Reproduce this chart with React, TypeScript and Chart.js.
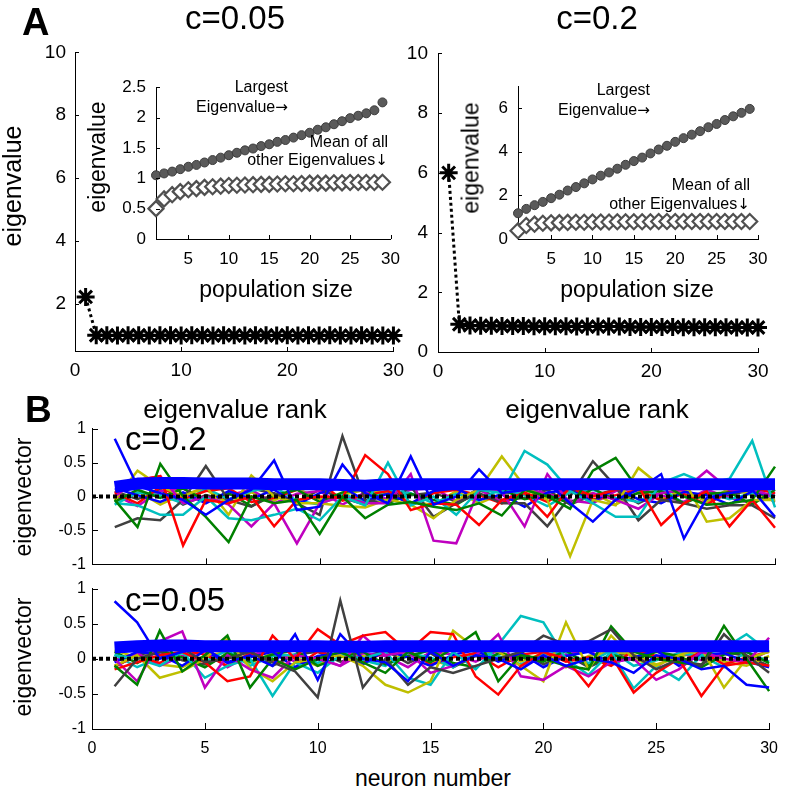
import React, { useEffect, useRef } from 'react';
import { Chart, registerables } from 'chart.js';

Chart.register(...registerables);

// ---------------- data ----------------
const rank = [1,2,3,4,5,6,7,8,9,10,11,12,13,14,15,16,17,18,19,20,21,22,23,24,25,26,27,28,29,30];
const mainEigC005 = [2.22,1.0,1.0,0.99,1.0,1.0,0.99,1.0,1.0,0.99,1.0,1.0,0.99,1.0,1.0,0.99,1.0,1.0,0.99,1.0,0.99,1.0,0.99,1.0,0.99,0.99,1.0,0.99,0.99,0.99];
const mainEigC02 = [6.0,0.93,0.89,0.88,0.88,0.87,0.87,0.87,0.86,0.86,0.86,0.86,0.85,0.85,0.85,0.85,0.85,0.84,0.84,0.84,0.84,0.84,0.83,0.83,0.83,0.83,0.83,0.82,0.82,0.82];
const mainXTicks = [0,10,20,30];
const mainYTicksC005 = [2,4,6,8,10];
const mainYTicksC02 = [0,2,4,6,8,10];

const popSize = [1,2,3,4,5,6,7,8,9,10,11,12,13,14,15,16,17,18,19,20,21,22,23,24,25,26,27,28,29];
const largestC005 = [1.05,1.08,1.11,1.15,1.19,1.22,1.26,1.30,1.34,1.38,1.42,1.46,1.49,1.53,1.56,1.60,1.63,1.67,1.71,1.75,1.80,1.84,1.89,1.94,1.99,2.03,2.07,2.12,2.25];
const meanOtherC005 = [0.5,0.66,0.73,0.78,0.81,0.83,0.85,0.86,0.87,0.88,0.885,0.89,0.895,0.9,0.9,0.905,0.91,0.91,0.915,0.92,0.92,0.92,0.925,0.925,0.93,0.93,0.93,0.93,0.935];
const largestC02 = [1.18,1.38,1.55,1.70,1.87,2.03,2.22,2.38,2.55,2.73,2.90,3.05,3.22,3.40,3.57,3.73,3.92,4.10,4.27,4.45,4.62,4.78,4.94,5.12,5.27,5.45,5.62,5.78,5.96];
const meanOtherC02 = [0.38,0.62,0.68,0.72,0.74,0.75,0.76,0.77,0.77,0.78,0.78,0.78,0.79,0.79,0.79,0.79,0.79,0.8,0.8,0.8,0.8,0.8,0.8,0.8,0.8,0.8,0.8,0.8,0.8];
const insetXTicks = [5,10,15,20,25,30];
const insetYTicksC005 = [0,0.5,1,1.5,2,2.5];
const insetYTicksC02 = [0,2,4,6];

const neurons = [1,2,3,4,5,6,7,8,9,10,11,12,13,14,15,16,17,18,19,20,21,22,23,24,25,26,27,28,29,30];
const vecXTicks = [0,5,10,15,20,25,30];
const vecYTicks = [-1,-0.5,0,0.5,1];
const zeroLineX = [0,30];
const zeroLineY = [0,0];

// c = 0.2 eigenvectors
const c02Thick = [0.14,0.19,0.2,0.2,0.19,0.19,0.19,0.18,0.18,0.18,0.17,0.16,0.18,0.18,0.18,0.18,0.18,0.18,0.18,0.18,0.18,0.18,0.18,0.18,0.18,0.18,0.18,0.18,0.18,0.18];
const c02Blue = [0.85,0.15,0.05,-0.05,-0.27,-0.05,0.1,0.53,-0.2,-0.15,0.47,0.05,-0.1,0.59,-0.12,0.0,0.4,0.05,0.1,0.2,-0.1,-0.37,-0.05,0.1,0.33,-0.62,-0.02,0.05,0.1,-0.3];
const c02Green = [-0.05,-0.45,0.48,0.0,-0.3,-0.67,0.0,-0.1,-0.05,-0.55,0.0,-0.32,-0.12,-0.08,-0.15,-0.2,-0.1,-0.28,0.1,0.0,-0.18,0.38,0.57,0.1,0.2,0.0,-0.12,-0.1,-0.05,0.44];
const c02Red = [0.05,0.24,0.3,-0.72,-0.05,-0.1,0.0,-0.44,-0.05,0.0,-0.02,0.61,0.33,-0.2,-0.1,-0.12,-0.42,-0.05,0.05,-0.3,0.15,0.0,0.1,0.15,-0.42,-0.1,0.08,-0.44,-0.05,-0.46];
const c02Cyan = [-0.1,-0.13,-0.27,-0.27,0.0,-0.32,-0.35,-0.27,-0.18,-0.35,0.0,-0.13,0.5,-0.13,0.0,-0.27,0.1,0.05,0.67,0.47,0.08,-0.1,-0.3,-0.3,0.2,0.33,0.19,0.26,0.82,-0.16];
const c02Magenta = [0.0,0.24,0.3,-0.1,0.0,-0.12,-0.44,-0.1,-0.69,-0.1,0.0,-0.1,-0.1,0.33,-0.65,-0.69,0.1,0.07,-0.44,0.33,-0.1,0.05,-0.05,-0.18,0.05,0.1,0.38,0.1,0.1,0.0];
const c02Yellow = [-0.05,0.38,0.15,0.0,0.15,-0.27,0.31,0.0,-0.1,-0.1,-0.14,-0.16,-0.04,-0.12,-0.32,-0.05,0.1,0.59,0.15,-0.05,-0.88,-0.05,-0.13,0.42,0.15,0.24,-0.37,-0.32,-0.05,-0.05];
const c02Gray = [-0.45,-0.32,-0.35,-0.05,0.45,-0.05,-0.15,0.05,-0.1,-0.27,0.89,-0.05,-0.1,0.15,-0.3,-0.1,0.05,-0.1,-0.1,-0.44,0.0,0.52,0.15,-0.35,-0.05,-0.1,-0.18,-0.13,-0.13,-0.32];
const c02Blue2 = [0.12,0.02,-0.08,0.06,-0.1,0.08,-0.04,0.1,-0.12,0.05,0.14,-0.06,0.04,-0.1,0.08,0.12,-0.05,0.03,-0.15,0.06,0.1,-0.08,0.12,-0.04,-0.1,0.07,0.02,-0.12,0.08,0.0];
const c02Green2 = [-0.08,0.1,-0.02,0.12,-0.06,0.05,-0.14,0.02,0.1,-0.08,0.06,0.12,-0.1,0.04,-0.05,-0.12,0.08,0.1,-0.04,0.02,-0.1,0.12,-0.06,0.05,0.08,-0.1,0.04,0.06,-0.12,0.1];
const c02Red2 = [0.05,-0.1,0.14,-0.04,0.08,0.12,-0.08,-0.02,0.1,0.22,-0.06,0.02,0.08,-0.12,0.05,0.1,0.02,-0.1,0.06,-0.08,0.12,-0.04,0.02,0.1,-0.06,0.04,-0.12,0.08,0.12,0.05];
const c02Cyan2 = [-0.12,0.06,0.02,-0.1,0.12,-0.04,0.08,0.14,-0.06,-0.12,0.04,-0.08,0.1,0.05,-0.1,0.04,-0.06,0.12,0.02,-0.14,0.06,0.1,-0.02,-0.08,0.12,-0.1,0.06,-0.04,0.05,0.12];
const c02Magenta2 = [0.02,-0.14,0.08,0.12,-0.08,0.02,0.1,-0.1,0.04,0.08,-0.12,0.06,-0.04,0.1,0.12,-0.06,0.1,-0.08,0.12,0.04,-0.06,-0.1,0.08,0.12,0.02,-0.08,0.1,-0.02,-0.1,0.06];
const c02Yellow2 = [-0.06,0.08,-0.12,0.04,0.1,-0.1,0.06,-0.06,0.12,-0.04,0.02,0.1,0.06,-0.08,-0.12,0.08,-0.1,0.04,0.1,-0.02,0.08,0.05,-0.12,0.06,-0.04,0.1,-0.08,0.12,0.02,-0.06];
const c02Gray2 = [0.08,-0.04,0.1,-0.12,0.02,-0.06,0.12,0.04,-0.08,0.1,-0.02,-0.12,0.08,0.02,0.06,-0.08,0.12,-0.06,-0.02,0.1,-0.12,0.02,0.1,-0.1,0.06,0.08,-0.06,0.02,0.1,-0.08];

// c = 0.05 eigenvectors
const c005Thick = [0.16,0.18,0.19,0.19,0.18,0.18,0.18,0.18,0.18,0.18,0.17,0.17,0.18,0.18,0.18,0.18,0.18,0.18,0.18,0.18,0.18,0.18,0.18,0.18,0.18,0.18,0.18,0.18,0.18,0.18];
const c005Blue = [0.82,0.52,0.0,0.1,0.15,-0.05,0.05,-0.1,0.35,-0.3,0.35,0.0,-0.05,-0.32,0.1,-0.1,0.05,0.0,-0.15,0.05,-0.1,0.0,-0.05,-0.2,0.05,0.0,-0.15,-0.1,-0.37,-0.41];
const c005Gray = [-0.39,0.0,0.1,0.15,-0.05,0.0,0.1,-0.05,-0.18,-0.55,0.83,-0.41,0.0,-0.37,-0.12,-0.2,-0.1,0.0,0.1,0.33,0.2,0.25,0.42,0.05,-0.15,0.0,-0.1,0.35,0.05,-0.2];
const c005Green = [-0.1,-0.37,0.4,-0.18,0.05,0.33,-0.41,0.0,-0.15,0.0,0.1,-0.05,-0.2,0.1,-0.05,0.15,0.38,-0.32,0.05,0.0,-0.1,-0.15,0.46,0.1,0.0,-0.05,-0.1,0.47,0.0,-0.46];
const c005Red = [-0.15,-0.05,0.05,0.1,-0.05,-0.32,-0.25,0.33,0.0,0.42,0.2,0.33,0.38,0.1,0.38,0.35,-0.25,-0.51,-0.1,0.1,0.0,-0.39,0.05,-0.48,-0.2,0.0,-0.53,-0.1,-0.05,-0.1];
const c005Magenta = [0.0,-0.32,0.25,0.39,-0.41,0.05,-0.15,-0.27,0.05,0.0,-0.1,0.33,0.05,0.1,-0.2,-0.1,0.05,0.35,-0.25,-0.3,-0.1,-0.25,-0.05,0.0,-0.3,-0.15,0.1,0.0,-0.05,0.3];
const c005Yellow = [-0.1,0.05,-0.27,-0.18,0.0,0.28,-0.13,-0.32,-0.05,0.0,0.05,-0.1,-0.37,-0.48,-0.32,0.4,0.15,0.1,-0.1,-0.32,0.52,-0.15,0.33,0.0,-0.1,0.05,0.15,-0.41,0.0,0.1];
const c005Cyan = [0.05,0.0,-0.1,0.1,-0.27,-0.1,0.0,-0.53,-0.05,-0.2,0.05,0.0,0.1,-0.27,-0.37,0.1,-0.15,0.2,0.61,0.52,0.0,-0.23,0.1,-0.42,-0.1,-0.3,0.05,0.15,0.35,0.1];
const c005Blue2 = [-0.05,0.1,0.06,-0.1,0.12,-0.06,0.02,0.1,-0.12,0.04,0.08,-0.08,0.12,0.02,-0.1,0.06,0.12,-0.04,0.08,-0.12,0.04,0.1,-0.06,0.02,0.12,-0.1,0.06,0.08,-0.04,-0.12];
const c005Green2 = [0.1,-0.06,0.12,0.02,-0.12,0.08,-0.04,0.06,0.12,-0.1,0.02,0.1,-0.08,0.04,0.12,-0.06,-0.12,0.08,0.02,-0.04,0.12,-0.1,0.06,-0.02,0.1,0.04,-0.12,0.06,0.1,-0.06];
const c005Red2 = [-0.1,0.04,-0.06,0.12,0.06,-0.1,0.08,-0.02,-0.12,0.1,0.04,-0.06,0.1,0.12,-0.08,0.02,0.08,-0.12,0.06,0.1,-0.04,0.02,-0.1,0.12,0.04,-0.06,0.1,-0.08,0.02,0.1];
const c005Cyan2 = [0.06,-0.12,0.02,0.08,-0.04,0.12,-0.1,0.04,0.06,-0.06,0.12,-0.02,-0.1,0.08,0.02,-0.12,0.1,0.04,-0.08,0.06,0.1,-0.06,0.12,-0.1,-0.02,0.08,0.04,-0.12,0.1,-0.04];
const c005Magenta2 = [-0.02,0.08,-0.1,0.04,0.1,-0.12,0.06,0.12,-0.04,0.02,-0.1,0.08,0.04,-0.12,0.1,0.06,-0.04,0.12,-0.1,0.02,0.06,0.12,-0.08,0.04,-0.12,0.1,-0.02,0.08,-0.06,0.12];
const c005Yellow2 = [0.12,0.02,-0.08,-0.12,0.04,0.1,-0.06,0.08,0.02,-0.1,0.12,0.04,-0.06,0.1,-0.02,-0.1,0.06,0.12,-0.04,0.08,-0.12,0.04,0.1,0.06,-0.08,0.02,0.12,-0.04,-0.1,0.04];
const c005Gray2 = [-0.12,0.06,0.1,-0.02,-0.08,0.04,0.12,-0.1,0.06,0.1,-0.04,0.02,0.12,-0.06,0.08,-0.12,0.04,-0.02,0.1,-0.08,0.06,-0.12,0.02,0.1,0.12,-0.04,-0.08,0.1,0.04,-0.1];

// ---------------- styles ----------------
const FONT = "'Liberation Sans', Arial, sans-serif";
const ARROW_FONT = "'DejaVu Sans', sans-serif";
const COL = {
  b: '#0000ff', g: '#008000', r: '#ff0000', c: '#00bfbf', m: '#bf00bf', y: '#bfbf00', k: '#404040',
};

type Axis = { min: number; max: number; ticks: number[]; labels: boolean; font: number; pad: number; tick: number };
type Spec = {
  plot: { l: number; t: number; r: number; b: number };
  pad: { l: number; t: number; r: number; b: number };
  x: Axis; y: Axis; datasets: any[];
};

const pts = (xs: number[], ys: number[]) => ys.map((v, i) => ({ x: xs[i], y: v }));

const inTicks = {
  id: 'inTicks',
  afterDraw(chart: any, _args: any, opts: any) {
    const { ctx, chartArea } = chart;
    const xs = chart.scales.x, ys = chart.scales.y;
    ctx.save();
    ctx.strokeStyle = '#000';
    ctx.lineWidth = 1;
    for (const t of xs.ticks) {
      const p = Math.round(xs.getPixelForValue(t.value)) + 0.5;
      ctx.beginPath(); ctx.moveTo(p, chartArea.bottom); ctx.lineTo(p, chartArea.bottom - opts.x); ctx.stroke();
    }
    for (const t of ys.ticks) {
      const p = Math.round(ys.getPixelForValue(t.value)) + 0.5;
      ctx.beginPath(); ctx.moveTo(chartArea.left, p); ctx.lineTo(chartArea.left + opts.y, p); ctx.stroke();
    }
    ctx.restore();
  },
};

function axisOpts(a: Axis, isX: boolean, size: number) {
  return {
    type: 'linear',
    min: a.min,
    max: a.max,
    afterBuildTicks: (s: any) => { s.ticks = a.ticks.map((v) => ({ value: v })); },
    afterFit: (s: any) => { if (isX) s.height = size; else s.width = size; },
    grid: { display: false, drawTicks: false, tickLength: 0 },
    border: { display: true, color: '#000', width: 1 },
    ticks: {
      display: a.labels, autoSkip: false, maxRotation: 0, minRotation: 0, padding: a.pad,
      color: '#000', font: { family: FONT, size: a.font },
      callback: (v: any) => String(v),
    },
  };
}

function PlotCanvas({ spec }: { spec: Spec }) {
  const ref = useRef<HTMLCanvasElement>(null);
  const w = spec.plot.r - spec.plot.l + spec.pad.l + spec.pad.r;
  const h = spec.plot.b - spec.plot.t + spec.pad.t + spec.pad.b;
  useEffect(() => {
    const chart = new Chart(ref.current as HTMLCanvasElement, {
      type: 'line',
      data: { datasets: spec.datasets },
      options: {
        responsive: false,
        animation: false,
        devicePixelRatio: 1,
        layout: { padding: { left: 0, top: spec.pad.t, right: spec.pad.r, bottom: 0 } },
        scales: { x: axisOpts(spec.x, true, spec.pad.b), y: axisOpts(spec.y, false, spec.pad.l) } as any,
        plugins: { legend: { display: false }, tooltip: { enabled: false }, inTicks: { x: spec.x.tick, y: spec.y.tick } } as any,
        elements: { line: { tension: 0 } },
      },
      plugins: [inTicks],
    } as any);
    return () => chart.destroy();
  }, []);
  return (
    <canvas
      ref={ref}
      width={w}
      height={h}
      style={{ position: 'absolute', left: spec.plot.l - spec.pad.l, top: spec.plot.t - spec.pad.t, width: w, height: h }}
    />
  );
}

function Txt(props: { x: number; y: number; size: number; text: string; arrow?: string; align?: string; bold?: boolean; rotate?: boolean }) {
  const { x, y, size, text, arrow, align = 'left', bold = false, rotate = false } = props;
  const base: any = {
    position: 'absolute', fontFamily: FONT, fontSize: size, lineHeight: 1, whiteSpace: 'nowrap',
    fontWeight: bold ? 'bold' : 'normal', color: '#000',
  };
  const content = (
    <>
      {text}
      {arrow ? <span style={{ fontFamily: ARROW_FONT, fontSize: size * 0.95 }}>{arrow}</span> : null}
    </>
  );
  if (rotate) {
    return <div style={{ ...base, left: x, top: y, transform: 'translate(-50%,-50%) rotate(-90deg)' }}>{content}</div>;
  }
  const tx = align === 'center' ? 'translateX(-50%)' : align === 'right' ? 'translateX(-100%)' : 'none';
  return <div style={{ ...base, left: x, top: y - 0.8465 * size, transform: tx }}>{content}</div>;
}

const starLine = (xs: number[], ys: number[]) => ({
  data: pts(xs, ys), borderColor: '#000', borderWidth: 3, borderDash: [3, 3],
  pointStyle: 'star', pointRadius: 9, pointBorderWidth: 3, pointBorderColor: '#000', pointBackgroundColor: '#000',
  clip: false,
});
const circles = (xs: number[], ys: number[]) => ({
  data: pts(xs, ys), showLine: false, pointStyle: 'circle', pointRadius: 4.5,
  pointBackgroundColor: '#5a5a5a', pointBorderColor: '#3c3c3c', pointBorderWidth: 1, clip: false,
});
const diamonds = (xs: number[], ys: number[]) => ({
  data: pts(xs, ys), showLine: false, pointStyle: 'rectRot', pointRadius: 7.5,
  pointBackgroundColor: '#ffffff', pointBorderColor: '#505050', pointBorderWidth: 2.2, clip: false,
});
const vline = (ys: number[], color: string, width = 2.5) => ({
  data: pts(neurons, ys), borderColor: color, borderWidth: width, pointRadius: 0, clip: false,
  borderJoinStyle: width > 5 ? 'round' : 'miter',
});
const zeroLine = () => ({
  data: pts(zeroLineX, zeroLineY), borderColor: '#000', borderWidth: 4, borderDash: [4, 3], pointRadius: 0, clip: false,
});

const mainLeft: Spec = {
  plot: { l: 75, t: 47, r: 397, b: 351 },
  pad: { l: 75, t: 15, r: 15, b: 35 },
  x: { min: 0, max: 30, ticks: mainXTicks, labels: true, font: 19, pad: 8, tick: 4 },
  y: { min: 0.5, max: 10, ticks: mainYTicksC005, labels: true, font: 19, pad: 9, tick: 4 },
  datasets: [starLine(rank, mainEigC005)],
};
const mainRight: Spec = {
  plot: { l: 438, t: 47, r: 758, b: 352 },
  pad: { l: 60, t: 15, r: 20, b: 35 },
  x: { min: 0, max: 30, ticks: mainXTicks, labels: true, font: 19, pad: 8, tick: 4 },
  y: { min: 0, max: 10, ticks: mainYTicksC02, labels: true, font: 19, pad: 10, tick: 4 },
  datasets: [starLine(rank, mainEigC02)],
};
const insetLeft: Spec = {
  plot: { l: 156, t: 79, r: 396, b: 239 },
  pad: { l: 45, t: 12, r: 14, b: 35 },
  x: { min: 1, max: 30, ticks: insetXTicks, labels: true, font: 17, pad: 10, tick: 4 },
  y: { min: 0, max: 2.5, ticks: insetYTicksC005, labels: true, font: 17, pad: 10, tick: 4 },
  datasets: [circles(popSize, largestC005), diamonds(popSize, meanOtherC005)],
};
const insetRight: Spec = {
  plot: { l: 518, t: 78, r: 758, b: 239 },
  pad: { l: 40, t: 12, r: 20, b: 35 },
  x: { min: 1, max: 30, ticks: insetXTicks, labels: true, font: 17, pad: 10, tick: 4 },
  y: { min: 0, max: 7, ticks: insetYTicksC02, labels: true, font: 17, pad: 10, tick: 4 },
  datasets: [circles(popSize, largestC02), diamonds(popSize, meanOtherC02)],
};
const vecTop: Spec = {
  plot: { l: 92, t: 425, r: 775, b: 568 },
  pad: { l: 60, t: 12, r: 13, b: 12 },
  x: { min: 0, max: 30, ticks: vecXTicks, labels: false, font: 16, pad: 10, tick: 6 },
  y: { min: -1, max: 1, ticks: vecYTicks, labels: true, font: 16, pad: 6, tick: 6 },
  datasets: [
    zeroLine(), vline(c02Thick, COL.b, 12),
    vline(c02Blue, COL.b), vline(c02Green, COL.g), vline(c02Red, COL.r), vline(c02Cyan, COL.c),
    vline(c02Magenta, COL.m), vline(c02Yellow, COL.y), vline(c02Gray, COL.k),
    vline(c02Blue2, COL.b), vline(c02Green2, COL.g), vline(c02Red2, COL.r), vline(c02Cyan2, COL.c),
    vline(c02Magenta2, COL.m), vline(c02Yellow2, COL.y), vline(c02Gray2, COL.k),
  ],
};
const vecBottom: Spec = {
  plot: { l: 92, t: 585, r: 775, b: 729 },
  pad: { l: 60, t: 12, r: 13, b: 35 },
  x: { min: 0, max: 30, ticks: vecXTicks, labels: true, font: 16, pad: 10, tick: 6 },
  y: { min: -1, max: 1, ticks: vecYTicks, labels: true, font: 16, pad: 6, tick: 6 },
  datasets: [
    zeroLine(), vline(c005Thick, COL.b, 12),
    vline(c005Blue, COL.b), vline(c005Gray, COL.k), vline(c005Green, COL.g), vline(c005Red, COL.r),
    vline(c005Magenta, COL.m), vline(c005Yellow, COL.y), vline(c005Cyan, COL.c),
    vline(c005Blue2, COL.b), vline(c005Green2, COL.g), vline(c005Red2, COL.r), vline(c005Cyan2, COL.c),
    vline(c005Magenta2, COL.m), vline(c005Yellow2, COL.y), vline(c005Gray2, COL.k),
  ],
};

export default function App() {
  return (
    <div style={{ position: 'absolute', left: 0, top: 0, width: 788, height: 793, background: '#fff', overflow: 'hidden' }}>
      <PlotCanvas spec={mainLeft} />
      <PlotCanvas spec={mainRight} />
      <PlotCanvas spec={insetLeft} />
      <PlotCanvas spec={insetRight} />
      <PlotCanvas spec={vecTop} />
      <PlotCanvas spec={vecBottom} />

      <Txt x={22} y={35} size={38} bold text="A" />
      <Txt x={235} y={29} size={33} align="center" text="c=0.05" />
      <Txt x={597} y={29} size={33} align="center" text="c=0.2" />
      <Txt x={12} y={186} size={25} rotate text="eigenvalue" />
      <Txt x={97} y={157} size={23} rotate text="eigenvalue" />
      <Txt x={471} y={158} size={23} rotate text="eigenvalue" />
      <Txt x={276} y={297} size={23} align="center" text="population size" />
      <Txt x={637} y={297} size={23} align="center" text="population size" />

      <Txt x={288} y={93} size={16} align="right" text="Largest" />
      <Txt x={288} y={113} size={16} align="right" text="Eigenvalue" arrow="→" />
      <Txt x={388} y={148} size={16} align="right" text="Mean of all" />
      <Txt x={388} y={166} size={16} align="right" text="other Eigenvalues" arrow="↓" />
      <Txt x={650} y={96} size={16} align="right" text="Largest" />
      <Txt x={650} y={116} size={16} align="right" text="Eigenvalue" arrow="→" />
      <Txt x={750} y={191} size={16} align="right" text="Mean of all" />
      <Txt x={750} y={210} size={16} align="right" text="other Eigenvalues" arrow="↓" />

      <Txt x={235} y={418} size={26} align="center" text="eigenvalue rank" />
      <Txt x={597} y={418} size={26} align="center" text="eigenvalue rank" />
      <Txt x={25} y={422} size={37} bold text="B" />
      <Txt x={125} y={450} size={33} text="c=0.2" />
      <Txt x={125} y={611} size={33} text="c=0.05" />
      <Txt x={23} y={497} size={23} rotate text="eigenvector" />
      <Txt x={23} y={657} size={23} rotate text="eigenvector" />
      <Txt x={433} y={786} size={23} align="center" text="neuron number" />
    </div>
  );
}
